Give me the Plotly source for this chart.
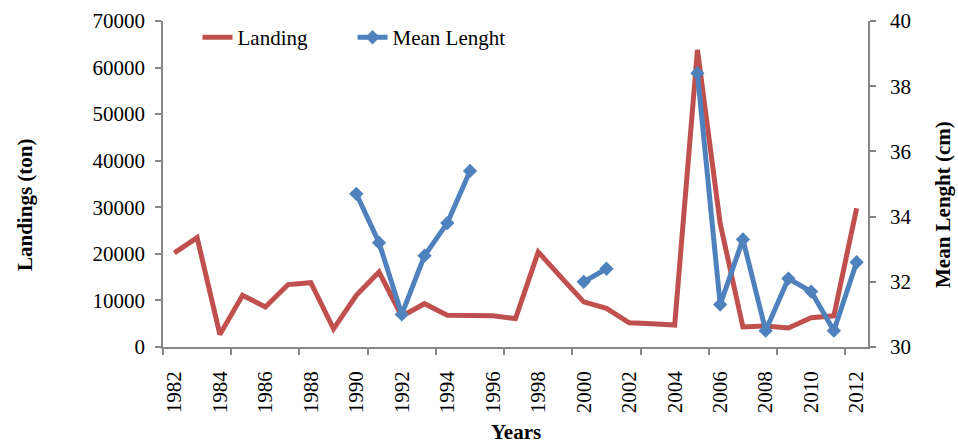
import plotly.graph_objects as go

years = list(range(1982, 2013))
landing = [20200, 23500, 2700, 11100, 8600, 13400, 13800, 3900, 11100, 16100,
           6600, 9300, 6800, 6800, 6700, 6100, 20400, 15000, 9700, 8300,
           5200, 5000, 4700, 63800, 26500, 4300, 4500, 4100, 6300, 6700, 29800]
mean_length = [None, None, None, None, None, None, None, None, 34.7, 33.2,
               31.0, 32.8, 33.8, 35.4, None, None, None, None, 32.0, 32.4,
               None, None, None, 38.4, 31.3, 33.3, 30.5, 32.1, 31.7, 30.5, 32.6]
tick_years = years[::2]
tick_labels = [str(y) for y in tick_years]
boundary_ticks = [y - 0.5 for y in years[::3]]

RED = "#C0504D"
BLUE = "#4F81BD"
AXIS = "#868686"
FONT = "Liberation Serif"

fig = go.Figure()
fig.add_trace(go.Scatter(x=years, y=landing, name="Landing", mode="lines",
                         line=dict(color=RED, width=5), yaxis="y"))
fig.add_trace(go.Scatter(x=years, y=mean_length, name="Mean Lenght", mode="lines+markers",
                         line=dict(color=BLUE, width=5),
                         marker=dict(symbol="diamond", size=11, color=BLUE),
                         connectgaps=False, yaxis="y2"))

fig.update_layout(
    width=958, height=443,
    margin=dict(l=163, r=90, t=21, b=96),
    paper_bgcolor="white", plot_bgcolor="white",
    font=dict(family=FONT, size=21, color="black"),
    showlegend=True,
    legend=dict(orientation="h", x=0.049, y=1.012, xanchor="left", yanchor="top",
                bgcolor="rgba(0,0,0,0)", font=dict(size=21), entrywidth=110,
                entrywidthmode="pixels", tracegroupgap=0),
    xaxis=dict(type="linear", range=[1981.5, 2012.5], tickmode="array",
               tickvals=tick_years, ticktext=tick_labels, tickangle=-90,
               ticks="", showline=True, linecolor=AXIS, linewidth=1.5,
               showgrid=False, zeroline=False, automargin=False,
               ticklabelstandoff=14,
               minor=dict(tickmode="array", tickvals=boundary_ticks, ticks="outside",
                          ticklen=6, tickcolor=AXIS, tickwidth=1.5, showgrid=False)),
    yaxis=dict(range=[0, 70000], dtick=10000, tick0=0, tickformat="d",
               ticks="outside", ticklen=6, automargin=False, ticklabelstandoff=6,
               tickcolor=AXIS, tickwidth=1.5, showline=True, linecolor=AXIS,
               linewidth=1.5, showgrid=False, zeroline=False),
    yaxis2=dict(range=[30, 40], dtick=2, tick0=30, overlaying="y", side="right",
                ticks="outside", ticklen=6, tickcolor=AXIS, tickwidth=1.5,
                automargin=False, ticklabelstandoff=10,
                showline=True, linecolor=AXIS, linewidth=1.5, showgrid=False,
                zeroline=False),
    annotations=[
        dict(text="<b>Landings (ton)</b>", x=25, y=205, showarrow=False,
             textangle=-90, font=dict(size=21)),
        dict(text="<b>Mean Lenght (cm)</b>", x=943, y=205, showarrow=False,
             textangle=-90, font=dict(size=21)),
        dict(text="<b>Years</b>", x=516, y=432, showarrow=False, font=dict(size=21)),
    ],
)

# convert pixel positions of axis titles to paper coordinates
pw, ph = 958 - 163 - 90, 443 - 21 - 96
for a in fig.layout.annotations:
    px, py = a.x, a.y
    a.update(xref="paper", yref="paper", x=(px - 163) / pw, y=(443 - 96 - py) / ph,
             xanchor="center", yanchor="middle")

fig.write_html("out.html", config={"displayModeBar": False},
               post_script="document.body.style.margin='0';document.body.style.overflow='hidden';")
